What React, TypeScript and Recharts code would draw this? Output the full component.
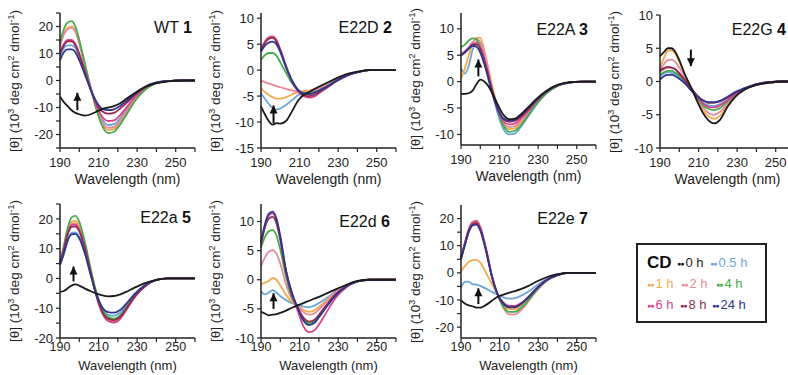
import React from 'react';
import { LineChart, Line, XAxis, YAxis, ReferenceLine, ReferenceDot } from 'recharts';

const FONT = '"Liberation Sans", Arial, Helvetica, sans-serif';

// wavelength grid (nm) shared by all spectra
const WAVELENGTH = [190, 192, 194, 196, 198, 200, 203, 206, 209, 212, 215, 218, 221, 225, 229, 234, 240, 246, 253, 260];
const X_TICKS = [190, 200, 210, 220, 230, 240, 250, 260];

const TIMES = ['0 h', '0.5 h', '1 h', '2 h', '4 h', '6 h', '8 h', '24 h'];
const COLORS = ['#1a1a1a', '#6aa6d8', '#f2aa50', '#e8899c', '#44aa4a', '#d9438c', '#8c2f4f', '#2f3590'];
// draw order: light colours first, black last
const DRAW_ORDER = [1, 2, 3, 4, 5, 6, 7, 0];

// WT 1
const wt0 = [-6, -8, -9.5, -11, -12, -12.5, -13, -12.5, -11.5, -10.5, -10, -9.5, -8.5, -6.5, -4.5, -2.5, -1, -0.3, 0, 0];
const wt05 = [9, 12, 13, 13, 12, 9, 3, -3.5, -10, -14.5, -16.5, -16.2, -14.2, -10.2, -6.5, -3, -0.9, -0.2, 0, 0];
const wt1 = [13, 17.5, 19.5, 20, 18.5, 14, 5.5, -3, -10.5, -16, -18.3, -18, -15.5, -11, -7, -3.2, -0.9, -0.2, 0, 0];
const wt2 = [12.5, 17, 19, 19.5, 18, 13.5, 5, -3, -10, -15.5, -17.5, -17.2, -15, -10.8, -6.8, -3, -0.9, -0.2, 0, 0];
const wt4 = [14, 19, 21.5, 22, 20, 15, 6, -3, -11, -17, -19.5, -19, -16.5, -12, -7.5, -3.5, -1, -0.2, 0, 0];
const wt6 = [10.5, 13.5, 15, 15, 13.5, 10, 3.5, -3, -9.5, -13.5, -15, -14.8, -13, -9.5, -6, -2.8, -0.8, -0.2, 0, 0];
const wt8 = [10, 13, 14.5, 14.5, 13, 9.5, 3, -3.5, -8.5, -11.5, -12.3, -12, -10.5, -8, -5.2, -2.5, -0.8, -0.2, 0, 0];
const wt24 = [7.5, 10.5, 11.5, 11.5, 10.5, 7.5, 2, -3.5, -8, -10.5, -11, -10.7, -9.5, -7.3, -4.8, -2.3, -0.7, -0.2, 0, 0];

// E22D 2
const d0 = [-7, -8.5, -9.8, -10.5, -10.2, -10.3, -9.8, -8, -6, -4.8, -4.2, -3.6, -3, -2.3, -1.6, -0.8, -0.3, 0, 0, 0];
const d05 = [-4.5, -5.5, -6.5, -7.3, -7.6, -7.4, -6.7, -5.8, -4.9, -4.3, -4.1, -3.7, -3.2, -2.6, -1.9, -1, -0.4, 0, 0, 0];
const d1 = [-3.5, -4.2, -4.8, -5.2, -5.5, -5.5, -5.2, -4.7, -4.3, -4, -3.9, -3.6, -3.2, -2.6, -1.9, -1, -0.4, 0, 0, 0];
const d2 = [-2, -2.3, -2.6, -2.8, -3.1, -3.3, -3.6, -3.9, -4.1, -4.3, -4.2, -3.9, -3.4, -2.7, -1.9, -1, -0.4, 0, 0, 0];
const d4 = [2, 2.9, 3.3, 3.3, 2.8, 1.5, -0.5, -2.5, -3.8, -4.4, -4.5, -4.2, -3.7, -2.9, -2, -1.1, -0.4, 0, 0, 0];
const d6 = [4, 5.5, 6.3, 6.5, 5.8, 4, 0.8, -2, -4, -5, -5.3, -5, -4.2, -3.2, -2.2, -1.2, -0.4, 0, 0, 0];
const d8 = [3.8, 5.2, 6, 6.2, 5.5, 3.8, 0.7, -2, -3.8, -4.8, -5, -4.7, -4, -3.1, -2.1, -1.1, -0.4, 0, 0, 0];
const d24 = [3.5, 4.7, 5.3, 5.5, 5, 3.5, 0.5, -2, -3.7, -4.5, -4.6, -4.3, -3.8, -3, -2.1, -1.1, -0.4, 0, 0, 0];

// E22A 3
const a0 = [-2.3, -2.3, -2.2, -1.7, -0.5, 0.4, -0.3, -2, -4.3, -6.3, -7.1, -7, -6.2, -4.8, -3.3, -1.8, -0.6, -0.1, 0, 0];
const a05 = [2.5, 1.5, 3, 6, 7.5, 7.2, 3.8, -1.5, -6, -9, -10, -9.8, -8.6, -6.5, -4.4, -2.3, -0.8, -0.2, 0, 0];
const a1 = [0.5, 2.5, 5, 7, 8.3, 8.3, 4.5, -0.5, -5, -8, -9, -8.8, -7.8, -6, -4.1, -2.2, -0.8, -0.2, 0, 0];
const a2 = [5.3, 5.8, 6.5, 7.5, 8, 7.6, 4, -1, -5, -7.7, -8.6, -8.4, -7.5, -5.8, -4, -2.1, -0.8, -0.2, 0, 0];
const a4 = [6.5, 7, 7.8, 8.2, 8, 6.5, 2.5, -1.5, -5.5, -8.3, -9.5, -9.3, -8.3, -6.3, -4.3, -2.3, -0.8, -0.2, 0, 0];
const a6 = [5, 5.5, 6.3, 7.2, 7.3, 6.5, 3, -1.5, -5.2, -7.5, -8.1, -7.9, -7, -5.5, -3.8, -2, -0.7, -0.2, 0, 0];
const a8 = [5, 5.5, 6.2, 6.9, 7, 6.2, 2.8, -1.5, -5, -7.1, -7.6, -7.4, -6.6, -5.2, -3.6, -1.9, -0.7, -0.2, 0, 0];
const a24 = [5, 5.6, 6.3, 6.8, 6.6, 5.5, 2.2, -2, -5.2, -7, -7.4, -7.2, -6.4, -5, -3.5, -1.9, -0.7, -0.2, 0, 0];

// E22G 4
const g0 = [3.8, 4.4, 5, 5, 4.4, 3.2, 1, -0.8, -2.8, -4.6, -5.8, -6.3, -5.8, -3.8, -2.3, -1.2, -0.5, -0.2, 0, 0];
const g05 = [0.8, 1.2, 1.4, 1.3, 1.1, 0.7, -0.1, -1.2, -2.3, -3.2, -3.6, -3.7, -3.4, -2.7, -1.8, -1, -0.5, -0.2, 0, 0];
const g1 = [2, 3.5, 4.6, 4.7, 4.1, 3, 0.9, -0.8, -2.6, -4.2, -5.2, -5.6, -5.2, -3.6, -2.2, -1.2, -0.5, -0.2, 0, 0];
const g2 = [1.8, 2.6, 3.2, 3.3, 2.9, 2.1, 0.6, -0.9, -2.4, -3.8, -4.7, -5, -4.6, -3.3, -2.1, -1.1, -0.5, -0.2, 0, 0];
const g4 = [1, 1.4, 1.6, 1.6, 1.3, 0.9, 0, -1.1, -2.4, -3.5, -4.1, -4.3, -4, -3, -2, -1.1, -0.5, -0.2, 0, 0];
const g6 = [1.5, 1.9, 2.1, 2.1, 1.8, 1.3, 0.2, -1, -2.2, -3.2, -3.8, -3.9, -3.6, -2.8, -1.9, -1.1, -0.5, -0.2, 0, 0];
const g8 = [1.7, 2, 2.2, 2.1, 1.8, 1.2, 0.2, -1, -2, -2.8, -3.2, -3.2, -3, -2.4, -1.7, -1, -0.4, -0.1, 0, 0];
const g24 = [0.3, 0.8, 1, 1, 0.8, 0.4, -0.3, -1.3, -2.2, -2.8, -3.1, -3.1, -2.9, -2.3, -1.6, -1, -0.4, -0.1, 0, 0];

// E22a 5
const la0 = [-4.5, -4.2, -3.3, -2.4, -2, -2.4, -3.4, -4.3, -5.1, -5.7, -6, -5.9, -5.4, -4.3, -3, -1.6, -0.5, 0, 0, 0];
const la05 = [4.5, 8.5, 13, 15.3, 15.5, 14, 8.5, 1, -5.8, -10.5, -12.2, -12.5, -11.6, -8.6, -5.3, -2.4, -0.5, 0, 0, 0];
const la1 = [5, 10.5, 16, 19, 19.3, 17.5, 11, 2.5, -5.5, -11, -13.5, -14, -13, -9.5, -5.8, -2.6, -0.5, 0, 0, 0];
const la2 = [5, 10, 15.5, 18.3, 18.5, 16.8, 10.5, 2, -6, -11.5, -14, -14.5, -13.5, -9.8, -6, -2.7, -0.5, 0, 0, 0];
const la4 = [5, 11, 17, 20.5, 21, 19, 12, 3, -5, -10.5, -13, -13.5, -12.5, -9, -5.5, -2.5, -0.5, 0, 0, 0];
const la6 = [5, 10, 15.2, 18, 18.1, 16.4, 10.2, 1.8, -6.2, -11.8, -14.3, -14.8, -13.7, -10, -6.1, -2.7, -0.5, 0, 0, 0];
const la8 = [5, 9.8, 14.8, 17.3, 17.5, 15.8, 9.8, 1.6, -6, -11.3, -13.6, -14, -13, -9.5, -5.8, -2.6, -0.5, 0, 0, 0];
const la24 = [4.5, 8.3, 12.7, 14.8, 15, 13.5, 8.2, 1, -5.5, -9.8, -11.3, -11.5, -10.7, -8, -5, -2.3, -0.5, 0, 0, 0];

// E22d 6
const ld0 = [-5.5, -5.8, -6.1, -6, -5.9, -5.7, -5.3, -4.8, -4.4, -4, -3.6, -3.2, -2.8, -2.2, -1.6, -0.9, -0.2, 0, 0, 0];
const ld05 = [-2, -2.5, -2.2, -1.8, -2.2, -2.8, -3.5, -4, -4.3, -4.6, -4.7, -4.4, -3.8, -2.9, -1.9, -1, -0.3, 0, 0, 0];
const ld1 = [-0.8, -0.5, -0.2, 0.3, 0, -1, -2.6, -3.8, -4.4, -5.2, -5.5, -5.2, -4.4, -3.2, -2.1, -1, -0.3, 0, 0, 0];
const ld2 = [2.3, 3.8, 4.8, 5.1, 4.5, 2.8, -0.8, -3.3, -4.5, -5.6, -6, -5.7, -4.8, -3.4, -2.2, -1.1, -0.3, 0, 0, 0];
const ld4 = [5.5, 7.3, 8.3, 8.5, 7.6, 5.2, 0.5, -3, -4.9, -6.8, -7.5, -7, -5.8, -4, -2.5, -1.2, -0.3, 0, 0, 0];
const ld6 = [6, 9, 11, 11.4, 10.2, 7.2, 1.5, -2.5, -5.3, -8, -9, -8.6, -7.2, -5, -3, -1.4, -0.3, 0, 0, 0];
const ld8 = [6.3, 9, 10.5, 10.8, 9.7, 6.8, 1.3, -2.5, -4.8, -6.5, -7.2, -6.8, -5.6, -3.9, -2.4, -1.1, -0.3, 0, 0, 0];
const ld24 = [6.5, 9.5, 11.3, 11.7, 10.5, 7.5, 1.5, -2.2, -4.8, -7, -7.8, -7.3, -6, -4.2, -2.6, -1.2, -0.3, 0, 0, 0];

// E22e 7
const le0 = [-10, -11.3, -12, -12.3, -12.8, -12.8, -11.8, -10.3, -8.8, -8, -7.3, -6.7, -6, -4.8, -3.3, -1.7, -0.5, 0, 0, 0];
const le05 = [-5.5, -3.3, -3.2, -4.2, -4.3, -4.8, -5.8, -7, -8, -9, -9.5, -9.3, -8.5, -6.9, -4.8, -2.5, -0.7, 0, 0, 0];
const le1 = [0.5, 2.5, 4, 4.7, 4.8, 3.8, 0, -4, -8, -11.8, -13.3, -13.4, -12.3, -9.6, -6.3, -3, -0.8, 0, 0, 0];
const le2 = [5.5, 11, 16, 18.8, 19.3, 17, 9, -1, -8, -13, -15.3, -15.3, -13.8, -10.5, -6.8, -3.2, -0.8, 0, 0, 0];
const le4 = [5.5, 10.5, 15.5, 18, 18.5, 16.3, 8.5, -1.2, -8, -12.5, -14.4, -14.4, -13, -10, -6.5, -3, -0.8, 0, 0, 0];
const le6 = [5.5, 11, 16, 18.5, 19, 16.8, 8.8, -1, -7.8, -11, -12.2, -12.2, -11.2, -8.8, -5.8, -2.8, -0.8, 0, 0, 0];
const le8 = [5.2, 10.5, 15.3, 17.8, 18.2, 16, 8.3, -1.3, -7.9, -11.2, -12.5, -12.5, -11.4, -8.9, -5.9, -2.8, -0.8, 0, 0, 0];
const le24 = [5, 10.2, 15, 17.5, 17.8, 15.6, 8, -1.4, -8, -11.4, -12.7, -12.7, -11.6, -9, -6, -2.9, -0.8, 0, 0, 0];

const PLOT_W = 135;
const AXIS_W = 48;
const M_TOP = 6;
const M_RIGHT = 6;
const X_AXIS_H = 44;

type Arrow = { x: number; from: number; to: number };
type PanelDef = {
  name: string;
  num: string;
  left: number;
  top: number;
  height: number;
  domain: [number, number];
  yTicks: number[];
  labelStep: number;
  titleRight: number;
  titleY: number;
  bottomRow: boolean;
  arrow: Arrow;
  series: number[][];
};

const PANELS: PanelDef[] = [
  { name: 'WT', num: '1', left: 60, top: 13, height: 135, domain: [-25, 25], yTicks: [-25, -20, -15, -10, -5, 0, 5, 10, 15, 20, 25], labelStep: 10, titleRight: 192, titleY: 28, bottomRow: false, arrow: { x: 199, from: -11, to: -4.5 }, series: [wt0, wt05, wt1, wt2, wt4, wt6, wt8, wt24] },
  { name: 'E22D', num: '2', left: 261, top: 13, height: 135, domain: [-15, 11], yTicks: [-15, -10, -5, 0, 5, 10], labelStep: 5, titleRight: 392, titleY: 28, bottomRow: false, arrow: { x: 196.5, from: -10.2, to: -6.8 }, series: [d0, d05, d1, d2, d4, d6, d8, d24] },
  { name: 'E22A', num: '3', left: 461, top: 13, height: 132, domain: [-12, 13], yTicks: [-10, -5, 0, 5, 10], labelStep: 5, titleRight: 588, titleY: 30, bottomRow: false, arrow: { x: 199, from: 1, to: 4.2 }, series: [a0, a05, a1, a2, a4, a6, a8, a24] },
  { name: 'E22G', num: '4', left: 660, top: 15, height: 133, domain: [-10, 10], yTicks: [-10, -5, 0, 5, 10], labelStep: 5, titleRight: 786, titleY: 30, bottomRow: false, arrow: { x: 206, from: 4.8, to: 2.3 }, series: [g0, g05, g1, g2, g4, g6, g8, g24] },
  { name: 'E22a', num: '5', left: 60, top: 204, height: 134, domain: [-20, 25], yTicks: [-20, -15, -10, -5, 0, 5, 10, 15, 20, 25], labelStep: 10, titleRight: 191, titleY: 218, bottomRow: true, arrow: { x: 197, from: -1, to: 4 }, series: [la0, la05, la1, la2, la4, la6, la8, la24] },
  { name: 'E22d', num: '6', left: 261, top: 204, height: 134, domain: [-10, 13], yTicks: [-10, -5, 0, 5, 10], labelStep: 5, titleRight: 390, titleY: 222, bottomRow: true, arrow: { x: 196.5, from: -5, to: -2.3 }, series: [ld0, ld05, ld1, ld2, ld4, ld6, ld8, ld24] },
  { name: 'E22e', num: '7', left: 461, top: 205, height: 133, domain: [-24, 25], yTicks: [-20, -15, -10, -5, 0, 5, 10, 15, 20], labelStep: 10, titleRight: 588, titleY: 219, bottomRow: true, arrow: { x: 199, from: -11.5, to: -5.7 }, series: [le0, le05, le1, le2, le4, le6, le8, le24] },
];

const fmtX = (v: number) => ((v - 190) % 20 === 0 && v < 260 ? String(v) : '');

function ArrowHead(props: any, up: boolean) {
  const { cx, cy } = props;
  if (cx == null || cy == null) return <g />;
  const d = up
    ? `M${cx - 4},${cy + 8} L${cx},${cy} L${cx + 4},${cy + 8} Z`
    : `M${cx - 4},${cy - 8} L${cx},${cy} L${cx + 4},${cy - 8} Z`;
  return <path d={d} fill="#111" />;
}

const noTick = () => <g />;

function YLabel({ x, y }: { x: number; y: number }) {
  const sup: React.CSSProperties = { fontSize: 9, position: 'relative', top: -5 };
  return (
    <div
      style={{
        position: 'absolute',
        left: x,
        top: y,
        transform: 'translate(-50%, -50%) rotate(-90deg)',
        whiteSpace: 'nowrap',
        fontSize: 13.5,
        lineHeight: '16px',
        color: '#222',
      }}
    >
      [θ] (10<span style={sup}>3</span> deg cm<span style={sup}>2</span> dmol<span style={sup}>-1</span>)
    </div>
  );
}

function Panel({ p }: { p: PanelDef }) {
  const rows = WAVELENGTH.map((w, i) => {
    const r: Record<string, number> = { w };
    p.series.forEach((s, k) => {
      r['s' + k] = s[i];
    });
    return r;
  });
  const up = p.arrow.to > p.arrow.from;
  const axisLine = { stroke: '#222', strokeWidth: 1.5 };
  const tickLine = { stroke: '#222', strokeWidth: 1.2 };
  // the bottom row sits close to the page edge, so its axis text is packed tighter
  const tickMargin = p.bottomRow ? 0 : 6;
  const titleOffset = p.bottomRow ? 12 : 8;
  const titleSize = p.bottomRow ? 13 : 14;
  const tickSize = p.bottomRow ? 12.5 : 13;
  return (
    <>
      <div style={{ position: 'absolute', left: p.left - AXIS_W, top: p.top - M_TOP }}>
        <LineChart
          width={AXIS_W + PLOT_W + M_RIGHT}
          height={M_TOP + p.height + X_AXIS_H}
          data={rows}
          margin={{ top: M_TOP, right: M_RIGHT, bottom: 0, left: 0 }}
        >
          <XAxis
            dataKey="w"
            type="number"
            domain={[190, 260]}
            ticks={X_TICKS}
            interval={0}
            tickFormatter={fmtX}
            tickSize={4}
            tickMargin={tickMargin}
            axisLine={axisLine}
            tickLine={tickLine}
            tick={{ fontSize: tickSize, fill: '#222', fontFamily: FONT }}
            height={X_AXIS_H}
            label={{ value: 'Wavelength (nm)', position: 'insideBottom', offset: titleOffset, fontSize: titleSize, fill: '#222', fontFamily: FONT }}
          />
          <XAxis
            xAxisId="top"
            orientation="top"
            type="number"
            domain={[190, 260]}
            ticks={X_TICKS}
            interval={0}
            tick={noTick}
            mirror
            tickSize={3}
            height={0}
            axisLine={axisLine}
            tickLine={tickLine}
          />
          <YAxis
            type="number"
            domain={p.domain}
            ticks={p.yTicks}
            interval={0}
            allowDataOverflow
            tickFormatter={(v: number) => (v % p.labelStep === 0 ? String(v) : '')}
            width={AXIS_W}
            tickSize={4}
            tickMargin={3}
            axisLine={axisLine}
            tickLine={tickLine}
            tick={{ fontSize: 13, fill: '#222', fontFamily: FONT }}
          />
          <YAxis
            yAxisId="right"
            orientation="right"
            type="number"
            domain={p.domain}
            ticks={p.yTicks}
            interval={0}
            tick={noTick}
            mirror
            tickSize={3}
            width={0}
            axisLine={axisLine}
            tickLine={tickLine}
          />
          {DRAW_ORDER.map((k) => (
            <Line
              key={k}
              dataKey={'s' + k}
              type="monotone"
              stroke={COLORS[k]}
              strokeWidth={1.8}
              dot={false}
              isAnimationActive={false}
            />
          ))}
          <ReferenceLine
            segment={[
              { x: p.arrow.x, y: p.arrow.from },
              { x: p.arrow.x, y: p.arrow.to },
            ]}
            stroke="#111"
            strokeWidth={2}
          />
          <ReferenceDot x={p.arrow.x} y={p.arrow.to} r={0} shape={(props: any) => ArrowHead(props, up)} />
        </LineChart>
      </div>
      <div
        style={{
          position: 'absolute',
          right: 788 - p.titleRight,
          top: p.titleY - 9,
          fontSize: 16,
          lineHeight: '18px',
          color: '#111',
          whiteSpace: 'nowrap',
        }}
      >
        {p.name} <b>{p.num}</b>
      </div>
      <YLabel x={p.left - 45} y={p.top + p.height / 2} />
    </>
  );
}

function LegendItem({ idx, x, y }: { idx: number; x: number; y: number }) {
  return (
    <div style={{ position: 'absolute', left: x, top: y - 8, lineHeight: '16px', fontSize: 13, color: COLORS[idx], whiteSpace: 'nowrap' }}>
      <span style={{ fontSize: 7, letterSpacing: -1, marginRight: 2, position: 'relative', top: -1 }}>●●</span>
      {TIMES[idx]}
    </div>
  );
}

function CdLegend() {
  return (
    <>
      <div
        style={{
          position: 'absolute',
          left: 636,
          top: 243,
          width: 127,
          height: 76,
          border: '2px solid #222',
        }}
      />
      <div style={{ position: 'absolute', left: 647, top: 254, fontSize: 17, fontWeight: 'bold', lineHeight: '18px', color: '#111' }}>CD</div>
      <LegendItem idx={0} x={677} y={263} />
      <LegendItem idx={1} x={710} y={263} />
      <LegendItem idx={2} x={647} y={284} />
      <LegendItem idx={3} x={681} y={284} />
      <LegendItem idx={4} x={716} y={284} />
      <LegendItem idx={5} x={647} y={305} />
      <LegendItem idx={6} x={680} y={305} />
      <LegendItem idx={7} x={712} y={305} />
    </>
  );
}

export default function App() {
  return (
    <div
      style={{
        position: 'fixed',
        left: 0,
        top: 0,
        width: 788,
        height: 375,
        overflow: 'hidden',
        background: '#fff',
        fontFamily: FONT,
      }}
    >
      {PANELS.map((p) => (
        <Panel key={p.name} p={p} />
      ))}
      <CdLegend />
    </div>
  );
}
